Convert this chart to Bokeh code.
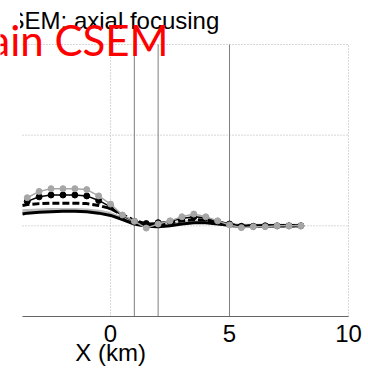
from bokeh.plotting import figure
from bokeh.models import Range1d, Label
from bokeh.embed import file_html
from bokeh.resources import INLINE

# ---- data ----
x_pts = [-3.5, -3, -2.5, -2, -1.5, -1, -0.5, 0, 0.5, 1, 1.5, 2, 2.5, 3, 3.5, 4,
         4.5, 5, 5.5, 6, 6.5, 7, 7.5, 8]
gray_pts = [1.31, 1.38, 1.41, 1.41, 1.41, 1.40, 1.33, 1.24, 1.12, 1.05, 0.975, 1.02,
            1.055, 1.10, 1.13, 1.10, 1.055, 1.01, 0.98, 0.99, 0.99, 1.0, 1.0, 1.0]
black_pts = [1.27, 1.32, 1.34, 1.34, 1.34, 1.33, 1.28, 1.21, 1.11, 1.05, 1.025, 1.035,
             1.05, 1.08, 1.10, 1.09, 1.05, 1.02, 0.995, 0.995, 1.0, 1.0, 1.0, 1.0]

x_curve = [-3.7, -3.5, -3, -2.5, -2, -1.5, -1, -0.5, 0, 0.5, 1, 1.5, 2, 2.5, 3, 3.5, 4,
           4.5, 5, 5.5, 6, 6.5, 7, 7.5, 8]
dashed_curve = [1.225, 1.235, 1.245, 1.25, 1.25, 1.25, 1.245, 1.225, 1.19, 1.12, 1.06,
                1.02, 1.01, 1.03, 1.055, 1.07, 1.065, 1.04, 1.015, 1.0, 0.995, 1.0,
                1.0, 1.0, 1.0]
gray_curve = [1.16, 1.165, 1.17, 1.175, 1.175, 1.175, 1.17, 1.155, 1.13, 1.08, 1.03,
              1.0, 0.995, 1.01, 1.035, 1.05, 1.05, 1.03, 1.01, 1.0, 1.0, 1.0, 1.0,
              1.0, 1.0]
black_curve = [1.13, 1.14, 1.15, 1.155, 1.16, 1.16, 1.155, 1.14, 1.115, 1.07, 1.02,
               0.995, 0.99, 1.0, 1.02, 1.035, 1.035, 1.02, 1.005, 0.995, 1.0, 1.0,
               1.0, 1.0, 1.0]

marker_x = [1, 2, 5]
x_lim = [-3.7, 10]
y_lim = [0, 3]
x_grid = [0, 10]
y_grid = [1, 2, 3]
x_tick_vals = [0, 5, 10]
x_tick_labels = ["0", "5", "10"]
title_text = "SEM: axial focusing"
red_text = "ain CSEM"
x_label = "X (km)"

# the whole canvas is the data area; ranges chosen so that the axes box
# sits where it does in the picture
p = figure(width=368, height=372, output_backend="svg", toolbar_location=None,
           x_range=Range1d(-4.6245, 10.8405), y_range=Range1d(-0.6176, 3.4853),
           min_border=0, min_border_left=0, min_border_right=0,
           min_border_top=0, min_border_bottom=0)
p.outline_line_color = None
p.axis.visible = False
p.grid.visible = False
p.background_fill_color = "white"
p.border_fill_color = "white"

# dotted grid
p.segment(x0=x_grid, y0=[y_lim[0]] * len(x_grid), x1=x_grid, y1=[y_lim[1]] * len(x_grid),
          line_color="#b0b0b0", line_dash="1 2", line_width=1)
p.segment(x0=[x_lim[0]] * len(y_grid), y0=y_grid, x1=[x_lim[1]] * len(y_grid), y1=y_grid,
          line_color="#b0b0b0", line_dash="1 2", line_width=1)

# vertical marker lines
p.segment(x0=marker_x, y0=[y_lim[0]] * len(marker_x), x1=marker_x,
          y1=[y_lim[1]] * len(marker_x), line_color="#7f7f7f", line_width=1)

# x axis line and tick labels
p.segment(x0=[x_lim[0]], y0=[y_lim[0]], x1=[x_lim[1]], y1=[y_lim[0]],
          line_color="#666666", line_width=1)
p.text(x=x_tick_vals, y=[y_lim[0]] * len(x_tick_vals), text=x_tick_labels,
       text_font={"value": "Liberation Sans"}, text_font_size="24px",
       text_color="black", text_align="center", text_baseline="alphabetic",
       y_offset=17)

# curves
p.line(x_curve, gray_curve, line_color="#bdbdbd", line_width=4)
p.line(x_curve, black_curve, line_color="black", line_width=3)
p.line(x_curve, dashed_curve, line_color="black", line_width=3, line_dash="7 3")
p.line(x_pts, black_pts, line_color="black", line_width=1.5)
p.scatter(x_pts, black_pts, size=6, fill_color="black", line_color="black")
p.line(x_pts, gray_pts, line_color="#a6a6a6", line_width=1.5)
p.scatter(x_pts, gray_pts, size=6, fill_color="#a6a6a6", line_color="#a6a6a6")

# title (partly hidden at its left end, as in the picture)
p.text(x=[-4.286], y=[3.268], text=[title_text],
       text_font={"value": "Liberation Sans"}, text_font_size="24px",
       text_color="black", text_align="left", text_baseline="alphabetic")
p.quad(left=[-4.6245], right=[-3.803], bottom=[2.95], top=[3.4853],
       fill_color="white", line_color=None)

# axis label
p.add_layout(Label(x=0.0, y=-0.397, text=x_label, text_font="Liberation Sans",
                   text_font_size="24px", text_color="black",
                   text_baseline="alphabetic", text_align="center"))

# red overlay text
p.add_layout(Label(x=2.437, y=3.055, text=red_text, text_font="Lato",
                   text_font_size="42px", text_color="#ff0000",
                   text_baseline="alphabetic", text_align="right"))

open("out.html", "w").write(file_html(p, INLINE))
